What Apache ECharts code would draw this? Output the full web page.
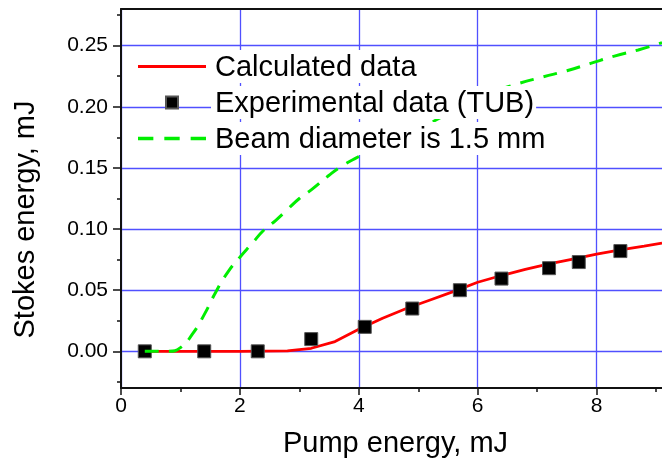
<!DOCTYPE html>
<html>
<head>
<meta charset="utf-8">
<script src="https://cdn.jsdelivr.net/npm/echarts@6/dist/echarts.min.js"></script>
<style>
html,body{margin:0;padding:0;background:#fff;}
#chart{width:662px;height:463px;}
</style>
</head>
<body>
<div id="chart"></div>
<script>
// ---- data ----
const calcX = [0.4, 1.0, 2.0, 2.8, 3.2, 3.6, 4.0, 4.4, 4.8, 5.2, 5.6, 6.0, 6.4, 6.8, 7.2, 7.6, 8.0, 8.4, 8.8, 9.1];
const calcY = [0, 0, 0, 0.0003, 0.0025, 0.008, 0.018, 0.027, 0.035, 0.042, 0.049, 0.0565, 0.062, 0.067, 0.0715, 0.0755, 0.0795, 0.083, 0.086, 0.0885];

const expX = [0.4, 1.4, 2.3, 3.2, 4.1, 4.9, 5.7, 6.4, 7.2, 7.7, 8.4];
const expY = [0, 0, 0, 0.010, 0.020, 0.035, 0.050, 0.0595, 0.068, 0.073, 0.082];

const beamX = [0.4, 0.8, 1.0, 1.2, 1.4, 1.6, 1.8, 2.0, 2.2, 2.4, 2.6, 2.8, 3.0, 3.2, 3.5, 3.7, 3.95, 4.2, 4.6, 5.0, 5.33, 5.7, 6.1, 6.65, 7.1, 7.5, 7.9, 8.3, 8.7, 9.1];
const beamY = [0, 0, 0.003, 0.014, 0.030, 0.049, 0.065, 0.077, 0.088, 0.099, 0.107, 0.116, 0.125, 0.132, 0.144, 0.151, 0.158, 0.164, 0.173, 0.182, 0.190, 0.200, 0.2095, 0.2185, 0.2245, 0.2295, 0.2355, 0.2415, 0.2465, 0.2525];

const seriesNames = ['Calculated data', 'Experimental data (TUB)', 'Beam diameter is 1.5 mm'];

const xTicks = [0, 2, 4, 6, 8];
const xMinorTicks = [1, 3, 5, 7, 9];
const yTicks = [0, 0.05, 0.10, 0.15, 0.20, 0.25];
const yMinorTicks = [-0.025, 0.025, 0.075, 0.125, 0.175, 0.225, 0.275];

const xName = 'Pump energy, mJ';
const yName = 'Stokes energy, mJ';

// ---- chart ----
const pairs = (xs, ys) => xs.map((x, i) => [x, ys[i]]);
const FONT = 'Liberation Sans';
const AXIS = '#111';
const GRID = '#5050ff';

const legendIcons = [
  'path://M0,0H68V2.8H0Z',
  'path://M0,0H12V12H0Z',
  'path://M0,0H14V3H0Z M24,0H38V3H24Z M48,0H62V3H48Z'
];

const chart = echarts.init(document.getElementById('chart'), null, {renderer: 'canvas'});
chart.setOption({
  backgroundColor: '#fff',
  animation: false,
  grid: {left: 121, top: 9, width: 542, height: 381, containLabel: false},
  legend: {
    orient: 'vertical', left: 138, top: 50, padding: 0, z: 20,
    itemWidth: 68, itemHeight: 12, itemGap: 3,
    selectedMode: false, symbolKeepAspect: true,
    data: seriesNames.map((n, i) => ({name: n, icon: legendIcons[i]})),
    formatter: n => '{t|' + n + '}',
    textStyle: {
      fontFamily: FONT, fontSize: 29, color: '#000',
      rich: {t: {fontFamily: FONT, fontSize: 29, color: '#000', backgroundColor: '#fff', padding: [3, 2, 1, 4]}}
    }
  },
  xAxis: [
    {
      type: 'value', position: 'bottom', min: 0, max: 9.1, interval: 2,
      name: xName, nameLocation: 'middle', nameGap: 41,
      nameTextStyle: {fontFamily: FONT, fontSize: 29, color: '#000', padding: [0, 0, 0, 8]},
      axisLine: {show: true, onZero: false, lineStyle: {color: AXIS, width: 2}},
      axisTick: {show: true, inside: false, length: 7, customValues: xTicks, lineStyle: {color: AXIS, width: 1.5}},
      axisLabel: {show: true, customValues: xTicks, margin: 8, fontFamily: FONT, fontSize: 21, color: '#000'},
      splitLine: {show: true, lineStyle: {color: GRID, width: 1.3}}
    },
    {
      type: 'value', position: 'bottom', min: 0, max: 9.1, interval: 1,
      axisLine: {show: false, onZero: false},
      axisTick: {show: true, inside: false, length: 4, customValues: xMinorTicks, lineStyle: {color: AXIS, width: 1.5}},
      axisLabel: {show: false},
      splitLine: {show: false}
    },
    {
      type: 'value', position: 'top', min: 0, max: 9.1, interval: 2,
      axisLine: {show: true, onZero: false, lineStyle: {color: AXIS, width: 2}},
      axisTick: {show: false}, axisLabel: {show: false}, splitLine: {show: false}
    }
  ],
  yAxis: [
    {
      type: 'value', position: 'left', min: -0.03, max: 0.28, minInterval: 0.05, maxInterval: 0.05,
      name: yName, nameLocation: 'middle', nameGap: 81,
      nameTextStyle: {fontFamily: FONT, fontSize: 29, color: '#000', padding: [0, 42, 0, 0]},
      axisLine: {show: true, onZero: false, lineStyle: {color: AXIS, width: 2}},
      axisTick: {show: true, inside: false, length: 8, customValues: yTicks, lineStyle: {color: AXIS, width: 1.5}},
      axisLabel: {show: true, customValues: yTicks, margin: 13, fontFamily: FONT, fontSize: 21, color: '#000',
                  formatter: v => v.toFixed(2)},
      splitLine: {show: true, lineStyle: {color: GRID, width: 1.3}}
    },
    {
      type: 'value', position: 'left', min: -0.03, max: 0.28, minInterval: 0.025, maxInterval: 0.025,
      axisLine: {show: false, onZero: false},
      axisTick: {show: true, inside: false, length: 4, customValues: yMinorTicks, lineStyle: {color: AXIS, width: 1.5}},
      axisLabel: {show: false},
      splitLine: {show: false}
    }
  ],
  series: [
    {
      name: seriesNames[0], type: 'line', xAxisIndex: 0, yAxisIndex: 0,
      data: pairs(calcX, calcY), symbol: 'none', smooth: false, z: 3,
      itemStyle: {color: '#ff0000'},
      lineStyle: {color: '#ff0000', width: 2.8}
    },
    {
      name: seriesNames[1], type: 'scatter', xAxisIndex: 0, yAxisIndex: 0,
      data: pairs(expX, expY), symbol: 'rect', symbolSize: 13, z: 4,
      itemStyle: {color: '#000', borderColor: '#555', borderWidth: 1, opacity: 1}
    },
    {
      name: seriesNames[2], type: 'line', xAxisIndex: 0, yAxisIndex: 0,
      data: pairs(beamX, beamY), symbol: 'none', smooth: true, z: 5,
      itemStyle: {color: '#00ee00'},
      lineStyle: {color: '#00ee00', width: 3, type: [14, 10]}
    }
  ]
});
</script>
</body>
</html>
